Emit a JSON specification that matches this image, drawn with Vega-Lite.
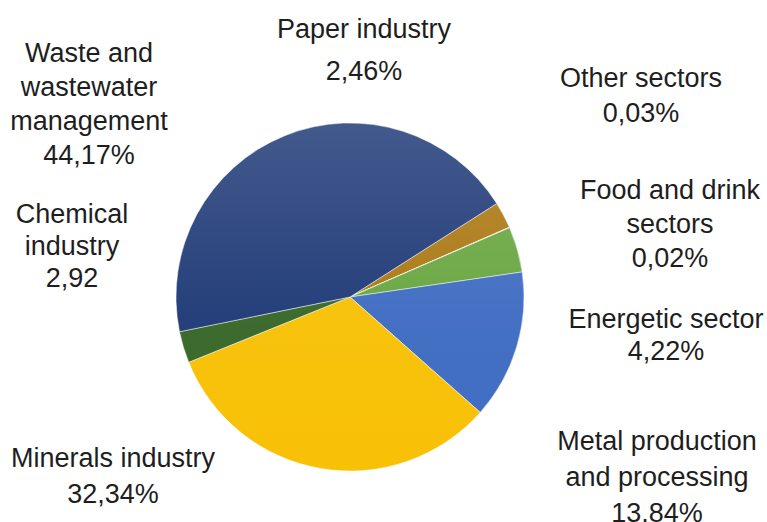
{
  "$schema": "https://vega.github.io/schema/vega-lite/v6.json",
  "autosize": {"type": "none"},
  "width": 600,
  "height": 450,
  "padding": {"left": 50, "top": 72, "right": 117, "bottom": 0},
  "background": "#ffffff",
  "config": {"view": {"stroke": null}},
  "data": {
    "values": [
      {"cat": "Paper industry", "value": 2.46, "ord": 1, "label": "Paper industry\n2,46%"},
      {"cat": "Other sectors", "value": 0.03, "ord": 2, "label": "Other sectors\n0,03%"},
      {"cat": "Food and drink sectors", "value": 0.02, "ord": 3, "label": "Food and drink\nsectors\n0,02%"},
      {"cat": "Energetic sector", "value": 4.22, "ord": 4, "label": "Energetic sector\n4,22%"},
      {"cat": "Metal production and processing", "value": 13.84, "ord": 5, "label": "Metal production\nand processing\n13,84%"},
      {"cat": "Minerals industry", "value": 32.34, "ord": 6, "label": "Minerals industry\n32,34%"},
      {"cat": "Chemical industry", "value": 2.92, "ord": 7, "label": "Chemical\nindustry\n2,92"},
      {"cat": "Waste and wastewater management", "value": 44.17, "ord": 8, "label": "Waste and\nwastewater\nmanagement\n44,17%"}
    ]
  },
  "layer": [
    {
      "mark": {"type": "arc", "outerRadius": 174, "stroke": "#ffffff", "strokeWidth": 0.7, "strokeOpacity": 0.7},
      "encoding": {
        "theta": {"field": "value", "type": "quantitative", "stack": true, "scale": {"range": [1.00356, 7.28675]}},
        "order": {"field": "ord", "type": "quantitative"},
        "color": {
          "field": "cat", "type": "nominal", "legend": null,
          "scale": {
            "domain": ["Paper industry", "Other sectors", "Food and drink sectors", "Energetic sector", "Metal production and processing", "Minerals industry", "Chemical industry", "Waste and wastewater management"],
            "range": ["#ab7812", "#a5a5a5", "#9e480e", "#68a63f", "#3f6cc2", "#f8c106", "#386628", "#1f3a77"]
          }
        }
      }
    },
    {
      "transform": [{"aggregate": [{"op": "sum", "field": "value", "as": "total"}]}],
      "mark": {
        "type": "arc", "outerRadius": 174, "theta": 0, "theta2": 6.2832,
        "fill": {"gradient": "linear", "x1": 0, "y1": 0, "x2": 0, "y2": 1,
          "stops": [{"offset": 0, "color": "rgba(255,255,255,0.16)"}, {"offset": 0.55, "color": "rgba(255,255,255,0.03)"}, {"offset": 1, "color": "rgba(255,255,255,0)"}]}
      },
      "encoding": {}
    },
    {
      "mark": {"type": "text", "radius": 267.4, "thetaOffset": -1.0285, "lineHeight": 42, "lineBreak": "\n", "font": "Liberation Sans", "fontSize": 27, "fill": "#1e1e1e", "align": "center", "baseline": "middle"},
      "encoding": {
        "theta": {"field": "value", "type": "quantitative", "stack": true},
        "order": {"field": "ord", "type": "quantitative"},
        "detail": {"field": "cat", "type": "nominal"},
        "text": {"condition": {"test": "datum.cat === 'Paper industry'", "field": "label", "type": "nominal"}, "value": ""}
      }
    },
    {
      "mark": {"type": "text", "radius": 363.6, "thetaOffset": -0.2313, "lineHeight": 35, "lineBreak": "\n", "font": "Liberation Sans", "fontSize": 27, "fill": "#1e1e1e", "align": "center", "baseline": "middle"},
      "encoding": {
        "theta": {"field": "value", "type": "quantitative", "stack": true},
        "order": {"field": "ord", "type": "quantitative"},
        "detail": {"field": "cat", "type": "nominal"},
        "text": {"condition": {"test": "datum.cat === 'Other sectors'", "field": "label", "type": "nominal"}, "value": ""}
      }
    },
    {
      "mark": {"type": "text", "radius": 337.1, "thetaOffset": 0.0902, "lineHeight": 34, "lineBreak": "\n", "font": "Liberation Sans", "fontSize": 27, "fill": "#1e1e1e", "align": "center", "baseline": "middle"},
      "encoding": {
        "theta": {"field": "value", "type": "quantitative", "stack": true},
        "order": {"field": "ord", "type": "quantitative"},
        "detail": {"field": "cat", "type": "nominal"},
        "text": {"condition": {"test": "datum.cat === 'Food and drink sectors'", "field": "label", "type": "nominal"}, "value": ""}
      }
    },
    {
      "mark": {"type": "text", "radius": 316.8, "thetaOffset": 0.3496, "lineHeight": 32, "lineBreak": "\n", "font": "Liberation Sans", "fontSize": 27, "fill": "#1e1e1e", "align": "center", "baseline": "middle"},
      "encoding": {
        "theta": {"field": "value", "type": "quantitative", "stack": true},
        "order": {"field": "ord", "type": "quantitative"},
        "detail": {"field": "cat", "type": "nominal"},
        "text": {"condition": {"test": "datum.cat === 'Energetic sector'", "field": "label", "type": "nominal"}, "value": ""}
      }
    },
    {
      "mark": {"type": "text", "radius": 339.5, "thetaOffset": 0.1508, "lineHeight": 36, "lineBreak": "\n", "font": "Liberation Sans", "fontSize": 27, "fill": "#1e1e1e", "align": "center", "baseline": "middle"},
      "encoding": {
        "theta": {"field": "value", "type": "quantitative", "stack": true},
        "order": {"field": "ord", "type": "quantitative"},
        "detail": {"field": "cat", "type": "nominal"},
        "text": {"condition": {"test": "datum.cat === 'Metal production and processing'", "field": "label", "type": "nominal"}, "value": ""}
      }
    },
    {
      "mark": {"type": "text", "radius": 287.1, "thetaOffset": 0.8008, "lineHeight": 36, "lineBreak": "\n", "font": "Liberation Sans", "fontSize": 27, "fill": "#1e1e1e", "align": "center", "baseline": "middle"},
      "encoding": {
        "theta": {"field": "value", "type": "quantitative", "stack": true},
        "order": {"field": "ord", "type": "quantitative"},
        "detail": {"field": "cat", "type": "nominal"},
        "text": {"condition": {"test": "datum.cat === 'Minerals industry'", "field": "label", "type": "nominal"}, "value": ""}
      }
    },
    {
      "mark": {"type": "text", "radius": 289.8, "thetaOffset": 0.5795, "lineHeight": 32, "lineBreak": "\n", "font": "Liberation Sans", "fontSize": 27, "fill": "#1e1e1e", "align": "center", "baseline": "middle"},
      "encoding": {
        "theta": {"field": "value", "type": "quantitative", "stack": true},
        "order": {"field": "ord", "type": "quantitative"},
        "detail": {"field": "cat", "type": "nominal"},
        "text": {"condition": {"test": "datum.cat === 'Chemical industry'", "field": "label", "type": "nominal"}, "value": ""}
      }
    },
    {
      "mark": {"type": "text", "radius": 356.6, "thetaOffset": -0.4372, "lineHeight": 34, "lineBreak": "\n", "font": "Liberation Sans", "fontSize": 27, "fill": "#1e1e1e", "align": "center", "baseline": "middle"},
      "encoding": {
        "theta": {"field": "value", "type": "quantitative", "stack": true},
        "order": {"field": "ord", "type": "quantitative"},
        "detail": {"field": "cat", "type": "nominal"},
        "text": {"condition": {"test": "datum.cat === 'Waste and wastewater management'", "field": "label", "type": "nominal"}, "value": ""}
      }
    }
  ]
}
